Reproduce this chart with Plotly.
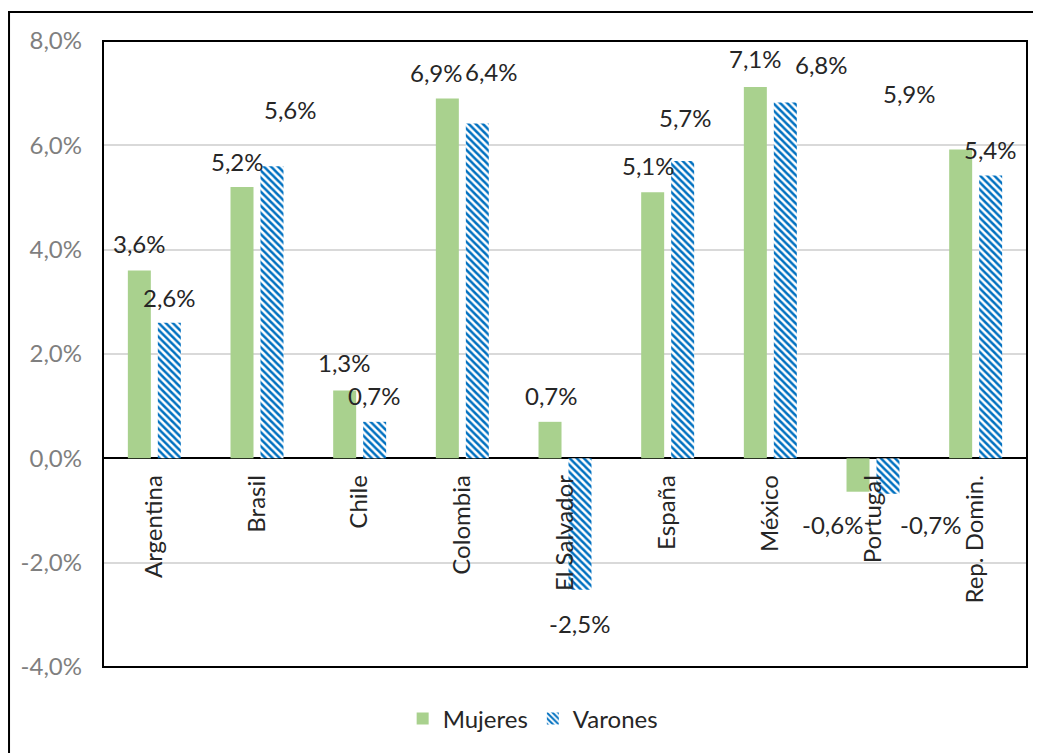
import plotly.graph_objects as go

categories = ["Argentina", "Brasil", "Chile", "Colombia", "El Salvador",
              "España", "México", "Portugal", "Rep. Domin."]
mujeres = [3.6, 5.2, 1.3, 6.9, 0.7, 5.1, 7.12, -0.64, 5.92]
varones = [2.6, 5.6, 0.7, 6.42, -2.52, 5.7, 6.82, -0.68, 5.42]
y_ticks = [-4, -2, 0, 2, 4, 6, 8]

# label placement offsets in pixels (dx, dy) relative to bar end (style only)
m_off = [(0, 27), (-5, 26), (0, 28), (-11, 26), (1, 26), (-4, 27), (0, 28), (-26, -33), (-51, 56)]
v_off = [(0, 25), (18, 57), (0, 26), (14, 52), (-1, -34), (3, 43), (36, 38), (42, -31), (0, 26)]

FONT = "Lato"
FS = 24
GREEN = "#A9D18E"
BLUE = "#0070C0"


def fmt(v):
    return f"{v:.1f}".replace(".", ",") + "%"


fig = go.Figure()
fig.add_trace(go.Bar(
    name="Mujeres", x=categories, y=mujeres,
    marker=dict(color=GREEN, line=dict(width=0)),
))
fig.add_trace(go.Bar(
    name="Varones", x=categories, y=varones,
    marker=dict(color="white", line=dict(width=0),
                pattern=dict(shape="\\", fgcolor=BLUE, bgcolor="white",
                             size=5, solidity=0.5, fillmode="replace")),
))

annotations = []
for i, c in enumerate(categories):
    for vals, offs, sh in ((mujeres, m_off, -15), (varones, v_off, 15)):
        v = vals[i]
        dx, dy = offs[i]
        annotations.append(dict(
            x=c, y=v, xref="x", yref="y", text=fmt(v), showarrow=False,
            xanchor="center", yanchor="middle", xshift=sh + dx, yshift=dy,
            font=dict(family=FONT, size=FS, color="#262626"),
        ))

shapes = [
    # plot area frame
    dict(type="rect", xref="paper", yref="paper", x0=0, x1=1, y0=0, y1=1,
         line=dict(color="black", width=2), fillcolor="rgba(0,0,0,0)", layer="above"),
    # outer chart frame
    dict(type="rect", xref="paper", yref="paper", x0=-0.1017, x1=1.05, y0=-0.2, y1=1.0463,
         line=dict(color="black", width=2), fillcolor="rgba(0,0,0,0)"),
]

fig.update_layout(
    width=1033, height=745,
    margin=dict(l=95, r=14, t=33, b=86),
    paper_bgcolor="white", plot_bgcolor="white",
    barmode="group", bargap=0.416, bargroupgap=0.233,
    font=dict(family=FONT, size=FS, color="#262626"),
    showlegend=True,
    legend=dict(orientation="h", x=0.465, xanchor="center", y=-0.083, yanchor="middle",
                font=dict(family=FONT, size=FS, color="#262626"),
                itemwidth=30, traceorder="normal"),
    annotations=annotations,
    shapes=shapes,
)
fig.update_yaxes(
    range=[-4, 8], tickvals=y_ticks, ticktext=[fmt(t) for t in y_ticks],
    showgrid=True, gridcolor="#D9D9D9", gridwidth=1.5,
    zeroline=True, zerolinecolor="black", zerolinewidth=1.5,
    tickfont=dict(family=FONT, size=FS, color="#7F7F7F"),
    ticks="", showline=False, ticklabelstandoff=20,
)
fig.update_xaxes(
    type="category", anchor="free", position=1/3,
    tickangle=-90, ticks="", showline=False, showgrid=False,
    tickfont=dict(family=FONT, size=FS, color="#262626"),
    ticklabelstandoff=11,
)

fig.write_html("out.html")
